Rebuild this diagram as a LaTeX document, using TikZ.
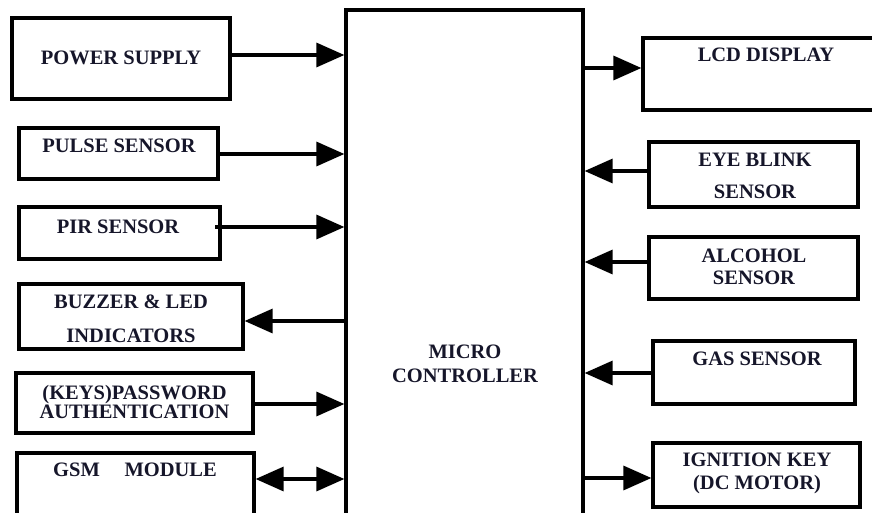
\documentclass[tikz,border=0pt]{standalone}
\usepackage{fontspec}
\setmainfont{Liberation Serif}
\usetikzlibrary{arrows.meta}
\definecolor{ink}{HTML}{16162A}
\tikzset{
  blk/.style={draw=black, line width=3.2pt, rectangle, inner sep=0pt},
  lbl/.style={font=\fontsize{20.5}{20}\selectfont\bfseries, text=ink, align=center, inner sep=0pt},
  arr/.style={line width=3.2pt, -{Triangle[length=28pt,width=24pt]}},
  darr/.style={line width=3.2pt, {Triangle[length=28pt,width=24pt]}-{Triangle[length=28pt,width=24pt]}},
}
\begin{document}
\begin{tikzpicture}[x=1pt,y=-1pt]
\useasboundingbox (0,0) rectangle (872,513);
\clip (0,0) rectangle (872,513);
\fill[white] (0,0) rectangle (872,513);

% central controller
\node[blk, minimum width=237pt, minimum height=520pt] (mcu) at (464.5,270) {};
\node[lbl] (mcut) at (465,364) {MICRO\\[4pt]CONTROLLER};

% left column
\node[blk, minimum width=218pt, minimum height=81pt] (ps) at (121,58.5) {};
\node[lbl] (pst) at (121,58) {POWER SUPPLY};

\node[blk, minimum width=199pt, minimum height=51pt] (pulse) at (118.5,153.5) {};
\node[lbl] (pulset) at (119,146) {PULSE SENSOR};

\node[blk, minimum width=201pt, minimum height=52pt] (pir) at (119.5,233) {};
\node[lbl] (pirt) at (118,227) {PIR SENSOR};

\node[blk, minimum width=224pt, minimum height=65pt] (buz) at (131,316.5) {};
\node[lbl] (buzt) at (131,319) {BUZZER \& LED\\[14pt]INDICATORS};

\node[blk, minimum width=237pt, minimum height=60pt] (keys) at (134.5,403) {};
\node[lbl] (keyst) at (134.5,402) {(KEYS)PASSWORD\\[-1pt]AUTHENTICATION};

\node[blk, minimum width=237pt, minimum height=80pt] (gsm) at (135.5,493) {};
\node[lbl] (gsmt) at (135,470) {GSM\hspace{1.2em}MODULE};

% right column
\node[blk, minimum width=250pt, minimum height=72pt] (lcd) at (768,74) {};
\node[lbl] (lcdt) at (766,55) {LCD DISPLAY};

\node[blk, minimum width=209pt, minimum height=65pt] (eye) at (753.5,174.5) {};
\node[lbl] (eyet) at (755,176) {EYE BLINK\\[12pt]SENSOR};

\node[blk, minimum width=209pt, minimum height=62pt] (alc) at (753.5,268) {};
\node[lbl] (alct) at (754,267) {ALCOHOL\\[2pt]SENSOR};

\node[blk, minimum width=202pt, minimum height=63pt] (gas) at (754,372.5) {};
\node[lbl] (gast) at (757,359) {GAS SENSOR};

\node[blk, minimum width=207pt, minimum height=64pt] (ign) at (756.5,475) {};
\node[lbl] (ignt) at (757,473) {IGNITION KEY\\[3pt](DC MOTOR)};

% connectors, left side
\draw[arr] (ps.east |- 0,55) -- (mcu.west |- 0,55);
\draw[arr] (pulse.east |- 0,154) -- (mcu.west |- 0,154);
\draw[arr] (215,227) -- (mcu.west |- 0,227);
\draw[arr] (mcu.west |- 0,321) -- (buz.east |- 0,321);
\draw[arr] (keys.east |- 0,404) -- (mcu.west |- 0,404);
\draw[darr] (gsm.east |- 0,479) -- (mcu.west |- 0,479);

% connectors, right side
\draw[arr] (mcu.east |- 0,68) -- (lcd.west |- 0,68);
\draw[arr] (eye.west |- 0,171) -- (mcu.east |- 0,171);
\draw[arr] (alc.west |- 0,262) -- (mcu.east |- 0,262);
\draw[arr] (gas.west |- 0,373) -- (mcu.east |- 0,373);
\draw[arr] (mcu.east |- 0,478) -- (ign.west |- 0,478);
\end{tikzpicture}
\end{document}
